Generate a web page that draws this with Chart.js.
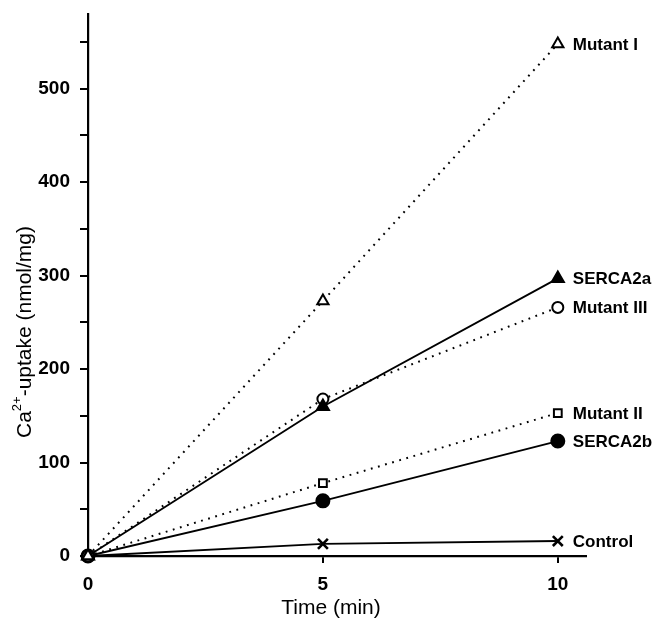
<!DOCTYPE html>
<html>
<head>
<meta charset="utf-8">
<script src="https://cdn.jsdelivr.net/npm/chart.js@4/dist/chart.umd.min.js"></script>
<style>
  body { margin: 0; background: #fff; }
  #wrap { width: 659px; height: 619px; position: relative; }
</style>
</head>
<body>
<div id="wrap"><canvas id="myChart"></canvas></div>
<script>
'use strict';

// data
let timePoints = [0, 5, 10];
let mutantOne = [0, 273, 548];
let serca2a = [0, 160, 297];
let mutantThree = [0, 168, 266];
let mutantTwo = [0, 78, 153];
let serca2b = [0, 59, 123];
let control = [0, 13, 16];
let seriesNames = ['Mutant I', 'SERCA2a', 'Mutant III', 'Mutant II', 'SERCA2b', 'Control'];
let xTicks = [0, 5, 10];
let yTicks = [0, 50, 100, 150, 200, 250, 300, 350, 400, 450, 500, 550];

const fontFamily = '"Liberation Sans", Arial, Helvetica, sans-serif';

function toPoints(values) {
  let pts = [];
  for (let i = 0; i < timePoints.length; i++) {
    pts.push({ x: timePoints[i], y: values[i] });
  }
  return pts;
}

function makeSet(name, values, style, dotted, radius, fill) {
  return {
    label: name,
    data: toPoints(values),
    borderColor: '#000',
    backgroundColor: fill ? '#000' : '#fff',
    borderWidth: dotted ? 2 : 1.9,
    borderDash: dotted ? [1.8, 5.6] : [],
    pointStyle: style,
    pointRadius: radius,
    pointBorderWidth: style === 'crossRot' ? 2.6 : 2,
    pointBorderColor: '#000',
    pointBackgroundColor: fill ? '#000' : '#fff',
    clip: false,
    tension: 0
  };
}

// end-of-line labels next to the last point, plus the two axis titles
const textLayer = {
  id: 'textLayer',
  afterDatasetsDraw(chart) {
    const ctx = chart.ctx;
    ctx.save();
    ctx.fillStyle = '#000';
    ctx.font = 'bold 17px ' + fontFamily;
    ctx.textBaseline = 'middle';
    ctx.textAlign = 'left';
    chart.data.datasets.forEach((ds, i) => {
      let meta = chart.getDatasetMeta(i);
      let last = meta.data[meta.data.length - 1];
      ctx.fillText(ds.label, last.x + 15, last.y + 1);
    });

    // x title
    ctx.font = '21px ' + fontFamily;
    ctx.textAlign = 'center';
    ctx.fillText('Time (min)', 331, 608);

    // y title with a real superscript
    let big = '21px ' + fontFamily;
    let small = '13px ' + fontFamily;
    let parts = [['Ca', big, 0], ['2+', small, -8], ['-uptake (nmol/mg)', big, 0]];
    let total = 0;
    parts.forEach(p => { ctx.font = p[1]; total += ctx.measureText(p[0]).width; });
    ctx.translate(25, 332);
    ctx.rotate(-Math.PI / 2);
    ctx.textAlign = 'left';
    let x = -total / 2;
    parts.forEach(p => {
      ctx.font = p[1];
      ctx.fillText(p[0], x, p[2]);
      x += ctx.measureText(p[0]).width;
    });
    ctx.restore();
  }
};

const data = {
  datasets: [
    makeSet(seriesNames[0], mutantOne, 'triangle', true, 6.5, false),
    makeSet(seriesNames[1], serca2a, 'triangle', false, 7, true),
    makeSet(seriesNames[2], mutantThree, 'circle', true, 5.5, false),
    makeSet(seriesNames[3], mutantTwo, 'rect', true, 5.5, false),
    makeSet(seriesNames[4], serca2b, 'circle', false, 6.5, true),
    makeSet(seriesNames[5], control, 'crossRot', false, 7, false)
  ]
};

const config = {
  type: 'line',
  data: data,
  plugins: [textLayer],
  options: {
    responsive: true,
    maintainAspectRatio: false,
    animation: false,
    layout: { autoPadding: false, padding: { left: 0, right: 73, top: 14, bottom: 0 } },
    plugins: {
      legend: { display: false },
      tooltip: { enabled: false }
    },
    scales: {
      x: {
        type: 'linear',
        min: 0,
        max: 10.6,
        afterBuildTicks: (scale) => { scale.ticks = xTicks.map(v => ({ value: v })); },
        afterFit: (scale) => { scale.height = 63; scale.paddingLeft = 0; scale.paddingRight = 0; },
        border: { color: '#000', width: 2.2 },
        grid: { drawOnChartArea: false, color: '#000', lineWidth: 2, tickLength: 7 },
        ticks: {
          color: '#000',
          padding: 10,
          maxRotation: 0,
          font: { family: fontFamily, size: 19, weight: 'bold' }
        }
      },
      y: {
        type: 'linear',
        min: 0,
        max: 580,
        afterBuildTicks: (scale) => { scale.ticks = yTicks.map(v => ({ value: v })); },
        afterFit: (scale) => { scale.width = 88; scale.paddingTop = 0; scale.paddingBottom = 0; },
        border: { color: '#000', width: 2.2 },
        grid: { drawOnChartArea: false, color: '#000', lineWidth: 2, tickLength: 8 },
        ticks: {
          color: '#000',
          padding: 10,
          font: { family: fontFamily, size: 19, weight: 'bold' },
          callback: (value) => (value % 100 === 0 ? String(value) : '')
        }
      }
    }
  }
};

const myChart = new Chart(document.getElementById('myChart'), config);
</script>
</body>
</html>
